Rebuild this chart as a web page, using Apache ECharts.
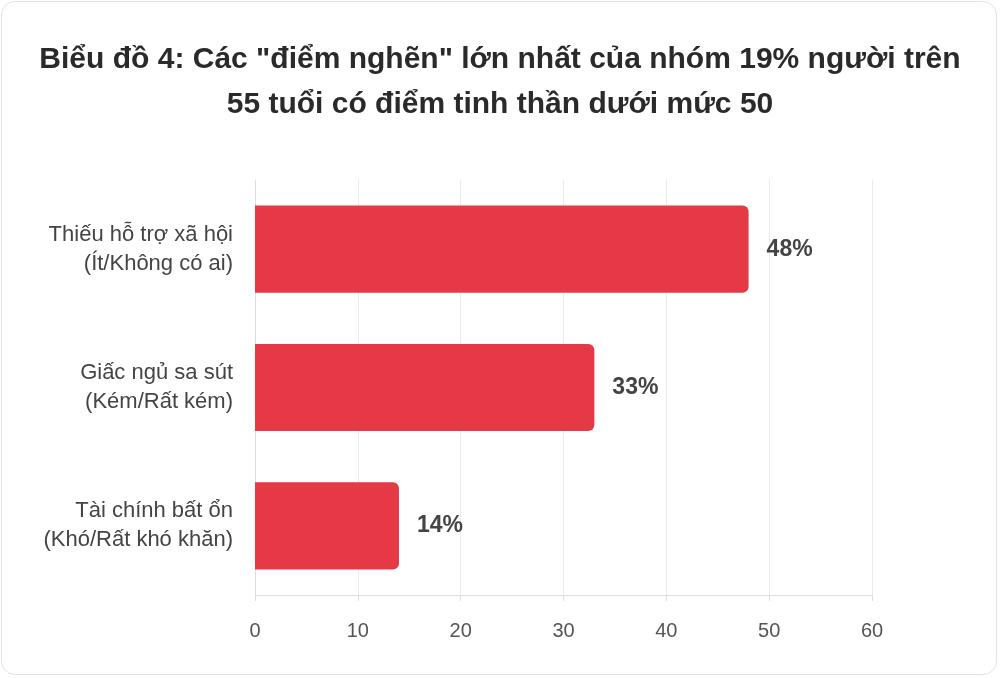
<!DOCTYPE html>
<html>
<head>
<meta charset="utf-8">
<script src="https://cdn.jsdelivr.net/npm/echarts@6/dist/echarts.min.js"></script>
<style>
html,body{margin:0;padding:0;background:#fff;}
#card{position:absolute;left:1px;top:1px;width:996px;height:674px;border:1px solid #e2e2e2;border-radius:14px;box-sizing:border-box;}
#chart{position:absolute;left:0;top:0;width:1000px;height:678px;}
</style>
</head>
<body>
<div id="card"></div>
<div id="chart"></div>
<script>
const categories = ["Thiếu hỗ trợ xã hội\n(Ít/Không có ai)", "Giấc ngủ sa sút\n(Kém/Rất kém)", "Tài chính bất ổn\n(Khó/Rất khó khăn)"];
const values = [48, 33, 14];
const titleText = 'Biểu đồ 4: Các "điểm nghẽn" lớn nhất của nhóm 19% người trên\n55 tuổi có điểm tinh thần dưới mức 50';

const chart = echarts.init(document.getElementById('chart'));
chart.setOption({
  animation: false,
  title: {
    text: titleText,
    left: 'center',
    top: 32,
    textStyle: {fontFamily: 'Liberation Sans, Arial, sans-serif', fontSize: 30, fontWeight: 'bold', color: '#2a2a2a', lineHeight: 45}
  },
  grid: {left: 255, right: 128, top: 180, bottom: 83},
  xAxis: {
    type: 'value', min: 0, max: 60, interval: 10,
    axisLine: {show: true, lineStyle: {color: '#ddd'}},
    axisTick: {show: true, length: 6, lineStyle: {color: '#ddd'}},
    splitLine: {show: true, lineStyle: {color: '#ebebeb'}},
    axisLabel: {fontFamily: 'Liberation Sans, Arial, sans-serif', fontSize: 20, color: '#555', margin: 26}
  },
  yAxis: {
    type: 'category', data: categories, inverse: true,
    axisLine: {show: true, lineStyle: {color: '#ddd'}},
    axisTick: {show: false},
    axisLabel: {fontFamily: 'Liberation Sans, Arial, sans-serif', fontSize: 22, color: '#444', lineHeight: 29, margin: 22, align: 'right'}
  },
  series: [{
    type: 'bar', data: values, barWidth: '63%',
    itemStyle: {color: '#e63946', borderRadius: [0, 6, 6, 0]},
    label: {show: true, position: 'right', distance: 18, formatter: '{c}%', fontFamily: 'Liberation Sans, Arial, sans-serif', fontSize: 23, fontWeight: 'bold', color: '#444'}
  }]
});
</script>
</body>
</html>
